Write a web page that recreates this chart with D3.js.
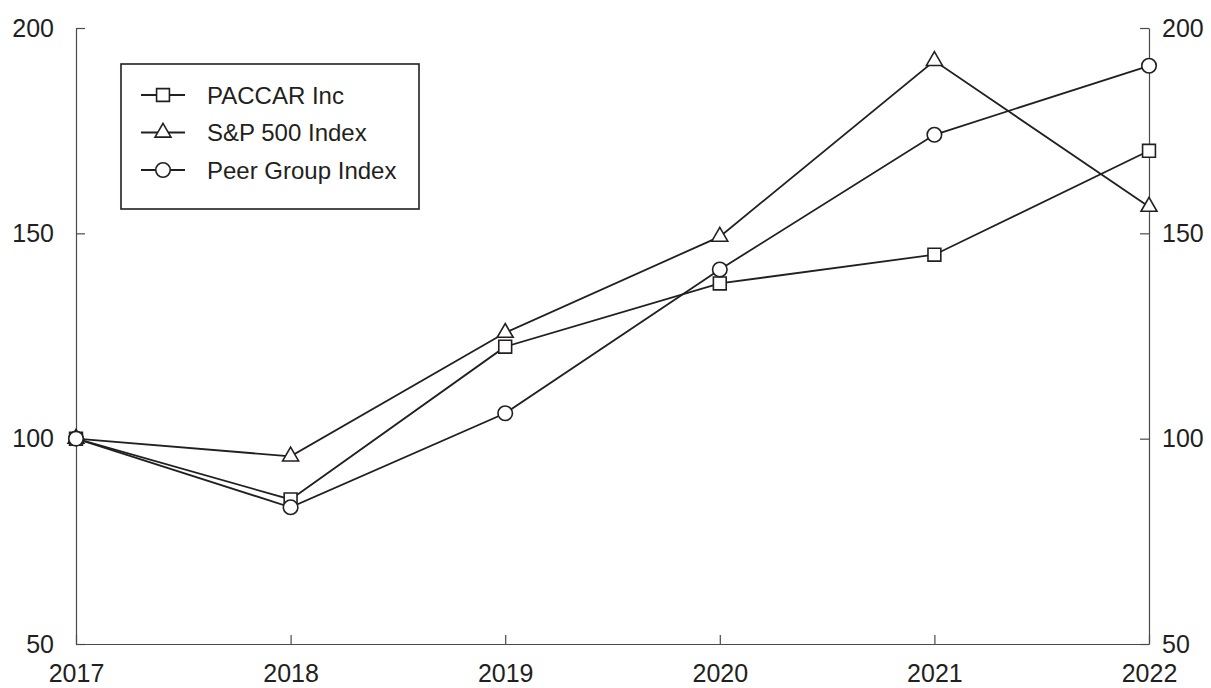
<!DOCTYPE html>
<html>
<head>
<meta charset="utf-8">
<script src="https://cdn.jsdelivr.net/npm/d3@7"></script>
<style>
  body { margin: 0; background: #fff; }
  svg { display: block; font-family: "Liberation Sans", Arial, sans-serif; }
  .axis path, .axis line { stroke: #4a4a4a; stroke-width: 1.2; }
  .axis text { font-size: 25px; fill: #231f20; }
</style>
</head>
<body>
<svg id="chart" width="1211" height="688"></svg>
<script>
const years = [2017, 2018, 2019, 2020, 2021, 2022];
const paccar = [100, 85.2, 122.4, 137.8, 144.8, 170.1];
const sp500 = [100, 95.7, 125.8, 149.2, 192.0, 156.5];
const peerGroup = [100, 83.3, 106.2, 141.2, 174.0, 190.8];
const yTicks = [50, 100, 150, 200];

const series = [
  { name: "PACCAR Inc", values: paccar, symbol: d3.symbolSquare, size: 165 },
  { name: "S&P 500 Index", values: sp500, symbol: d3.symbolTriangle, size: 110 },
  { name: "Peer Group Index", values: peerGroup, symbol: d3.symbolCircle, size: 165 }
];

const svg = d3.select("#chart");
const margin = { left: 76, right: 62, top: 28, bottom: 44 };
const width = +svg.attr("width");
const height = +svg.attr("height");

const x = d3.scaleLinear()
  .domain([2017, 2022])
  .range([margin.left, width - margin.right]);
const y = d3.scaleLinear()
  .domain([50, 200])
  .range([height - margin.bottom, margin.top]);

svg.append("g")
  .attr("class", "axis")
  .attr("transform", `translate(0,${height - margin.bottom})`)
  .call(d3.axisBottom(x).tickValues(years).tickFormat(d3.format("d"))
    .tickSizeInner(-9).tickSizeOuter(0).tickPadding(20));

svg.append("g")
  .attr("class", "axis")
  .attr("transform", `translate(${margin.left},0)`)
  .call(d3.axisLeft(y).tickValues(yTicks).tickSizeInner(-9).tickSizeOuter(0).tickPadding(22));

svg.append("g")
  .attr("class", "axis")
  .attr("transform", `translate(${width - margin.right},0)`)
  .call(d3.axisRight(y).tickValues(yTicks).tickSizeInner(-9).tickSizeOuter(0).tickPadding(13));

const line = d3.line()
  .x((d, i) => x(years[i]))
  .y(d => y(d));

series.forEach(s => {
  svg.append("path")
    .datum(s.values)
    .attr("fill", "none")
    .attr("stroke", "#231f20")
    .attr("stroke-width", 1.8)
    .attr("d", line);
});

series.forEach(s => {
  svg.append("g")
    .selectAll("path")
    .data(s.values)
    .join("path")
    .attr("transform", (d, i) => `translate(${x(years[i])},${y(d)})`)
    .attr("d", d3.symbol().type(s.symbol).size(s.size))
    .attr("fill", "#fff")
    .attr("stroke", "#231f20")
    .attr("stroke-width", 1.6);
});

// legend
const legend = svg.append("g").attr("transform", "translate(121,64)");
legend.append("rect")
  .attr("width", 298)
  .attr("height", 145)
  .attr("fill", "#fff")
  .attr("stroke", "#231f20")
  .attr("stroke-width", 1.6);

series.forEach((s, i) => {
  const row = legend.append("g").attr("transform", `translate(0,${31 + i * 37.5})`);
  row.append("line")
    .attr("x1", 20).attr("x2", 64)
    .attr("stroke", "#231f20").attr("stroke-width", 1.8);
  row.append("path")
    .attr("transform", "translate(42,0)")
    .attr("d", d3.symbol().type(s.symbol).size(s.size))
    .attr("fill", "#fff")
    .attr("stroke", "#231f20")
    .attr("stroke-width", 1.6);
  row.append("text")
    .attr("x", 86)
    .attr("dy", "0.36em")
    .attr("font-size", 24)
    .attr("fill", "#231f20")
    .text(s.name);
});
</script>
</body>
</html>
